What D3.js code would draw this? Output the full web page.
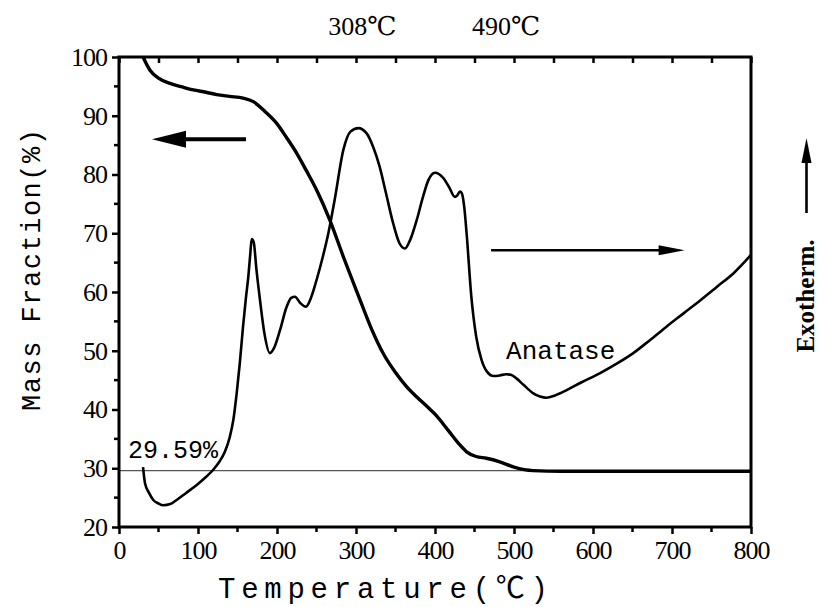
<!DOCTYPE html>
<html>
<head>
<meta charset="utf-8">
<script src="https://cdn.jsdelivr.net/npm/d3@7"></script>
<style>
body{margin:0;background:#fff;}
text{fill:#000;}
</style>
</head>
<body>
<div id="chart"></div>
<script>
// temperature (C) and mass fraction (%) for the TG curve
var tgTemp = [30.4, 39, 50, 64.6, 80, 94, 110, 123.6, 140, 157, 170, 185, 199.6, 212, 225, 237, 250, 267, 284, 303, 320, 335, 350, 364, 378, 390, 400, 417, 430, 440, 452, 465, 482, 500, 524, 560, 650, 800];
var tgMass = [100, 97.8, 96.4, 95.5, 94.9, 94.4, 94.0, 93.6, 93.3, 93.0, 92.4, 90.7, 88.7, 86.3, 83.6, 80.7, 77.4, 72.2, 66.0, 59.4, 53.6, 49.4, 46.3, 43.9, 42.0, 40.5, 39.2, 36.4, 34.2, 32.8, 32.0, 31.7, 31.1, 30.2, 29.6, 29.5, 29.5, 29.5];

// DTA signal (arbitrary units, drawn on its own hidden axis)
var dtaTemp = [30.4, 33, 38, 43.4, 50, 56, 65, 73, 85, 98, 110, 119, 127, 134, 140, 144.7, 149, 153, 157, 160.5, 163.7, 166, 168, 170.5, 174, 178.5, 184, 191, 196, 203.8, 212, 218, 222.8, 229, 236.7, 243, 250, 258, 265, 273, 284, 293, 303, 313.5, 322, 330, 338, 347, 355, 362, 369, 377, 384, 391.5, 400, 410.5, 418, 425, 428, 431.6, 434, 437, 440, 446, 452, 459, 466, 474, 482, 490, 496, 503, 512, 524, 533, 541, 552, 566.7, 585, 609, 630, 651, 672, 693, 715, 736, 757, 778, 800];
var dtaVal = [30.2, 27.4, 25.8, 24.6, 24.0, 23.7, 23.9, 24.6, 25.8, 27.1, 28.5, 29.7, 31.1, 32.8, 35.2, 38.2, 42.8, 48.0, 54.1, 58.8, 62.6, 66.2, 69.0, 68.5, 63.8, 58.6, 53.0, 49.6, 50.4, 53.5, 57.4, 59.0, 59.2, 58.2, 57.5, 59.0, 62.0, 66.0, 70.0, 75.7, 84.2, 87.3, 87.9, 87.0, 84.6, 81.3, 76.8, 71.7, 68.3, 67.4, 69.0, 72.3, 75.8, 79.0, 80.3, 79.4, 77.8, 76.2, 76.4, 77.1, 76.8, 74.5, 70.0, 59.2, 52.5, 48.4, 46.4, 45.7, 45.8, 46.0, 45.9, 45.3, 44.2, 42.8, 42.2, 42.0, 42.4, 43.3, 44.6, 46.2, 47.8, 49.6, 51.8, 54.1, 56.4, 58.6, 60.9, 63.2, 66.3];

var xTicks = [0, 100, 200, 300, 400, 500, 600, 700, 800];
var yTicks = [20, 30, 40, 50, 60, 70, 80, 90, 100];
var residual = 29.59;
var peakLabels = [{t: 308, text: "308℃"}, {t: 490, text: "490℃"}];

var width = 820, height = 607;
var margin = {left: 119, right: 69, top: 57, bottom: 80};

var svg = d3.select("#chart").append("svg")
	.attr("width", width)
	.attr("height", height);

var x = d3.scaleLinear().domain([0, 800]).range([margin.left, width - margin.right]);
var y = d3.scaleLinear().domain([20, 100]).range([height - margin.bottom, margin.top]);
var yDta = d3.scaleLinear().domain([20, 100]).range([height - margin.bottom, margin.top]);

var numFont = "Liberation Serif, DejaVu Serif, serif";
var monoFont = "Liberation Mono, Noto Sans CJK SC, monospace";

// residual mass reference line
svg.append("line")
	.attr("x1", x(0)).attr("x2", x(800))
	.attr("y1", y(residual)).attr("y2", y(residual))
	.attr("stroke", "#555")
	.attr("stroke-width", 1.2);

// curves
var tgLine = d3.line()
	.x(function(d, i) { return x(tgTemp[i]); })
	.y(function(d) { return y(d); })
	.curve(d3.curveMonotoneX);

var dtaLine = d3.line()
	.x(function(d, i) { return x(dtaTemp[i]); })
	.y(function(d) { return yDta(d); })
	.curve(d3.curveMonotoneX);

svg.append("path")
	.attr("d", tgLine(tgMass))
	.attr("fill", "none")
	.attr("stroke", "#000")
	.attr("stroke-width", 3.4);

svg.append("path")
	.attr("d", dtaLine(dtaVal))
	.attr("fill", "none")
	.attr("stroke", "#000")
	.attr("stroke-width", 2.6);

// axes
var xMinor = d3.range(50, 800, 100);
var yMinor = d3.range(25, 100, 10);

var gx = svg.append("g")
	.attr("transform", "translate(0," + y(20) + ")")
	.call(d3.axisBottom(x).tickValues(xTicks).tickSize(7).tickPadding(7));

var gy = svg.append("g")
	.attr("transform", "translate(" + x(0) + ",0)")
	.call(d3.axisLeft(y).tickValues(yTicks).tickSize(7).tickPadding(5));

var gt = svg.append("g")
	.attr("transform", "translate(0," + y(100) + ")")
	.call(d3.axisTop(x).tickValues(xTicks.concat(xMinor)).tickSize(-6).tickFormat(""));

gx.selectAll(".minor").data(xMinor).enter().append("line")
	.attr("class", "minor")
	.attr("x1", function(d) { return x(d); }).attr("x2", function(d) { return x(d); })
	.attr("y1", 0).attr("y2", 5)
	.attr("stroke", "#000").attr("stroke-width", 2.5);
gy.selectAll(".minor").data(yMinor).enter().append("line")
	.attr("class", "minor")
	.attr("y1", function(d) { return y(d); }).attr("y2", function(d) { return y(d); })
	.attr("x1", 0).attr("x2", -5)
	.attr("stroke", "#000").attr("stroke-width", 2.5);

[gx, gy, gt].forEach(function(g) {
	g.attr("font-family", numFont).attr("font-size", 26);
	g.select(".domain").remove();
	g.selectAll(".tick line").attr("stroke-width", 2.5);
	g.selectAll(".tick text").attr("fill", "#000").attr("letter-spacing", -1);
});

// frame
svg.append("rect")
	.attr("x", x(0)).attr("y", y(100))
	.attr("width", x(800) - x(0)).attr("height", y(20) - y(100))
	.attr("fill", "none")
	.attr("stroke", "#000").attr("stroke-width", 3);

// axis titles
svg.append("text")
	.attr("x", 383)
	.attr("y", 598)
	.attr("text-anchor", "middle")
	.attr("textLength", 330)
	.attr("lengthAdjust", "spacing")
	.attr("font-family", monoFont)
	.attr("font-size", 29)
	.text("Temperature(℃)");

svg.append("text")
	.attr("transform", "translate(40,270) rotate(-90)")
	.attr("text-anchor", "middle")
	.attr("textLength", 282)
	.attr("lengthAdjust", "spacing")
	.attr("font-family", monoFont)
	.attr("font-size", 27)
	.text("Mass Fraction(%)");

// peak temperatures above the plot
svg.selectAll(".peak").data(peakLabels).enter().append("text")
	.attr("class", "peak")
	.attr("x", function(d) { return x(d.t); })
	.attr("y", 35)
	.attr("text-anchor", "middle")
	.attr("font-family", numFont)
	.attr("font-size", 26)
	.text(function(d) { return d.text; });

// annotations
svg.append("text")
	.attr("x", x(11.5))
	.attr("y", y(31.7))
	.attr("font-family", monoFont)
	.attr("font-size", 25)
	.text(residual.toFixed(2) + "%");

svg.append("text")
	.attr("x", x(490))
	.attr("y", y(48.6))
	.attr("font-family", monoFont)
	.attr("font-size", 26)
	.text("Anatase");

// direction arrows: line plus a filled triangular head
function arrow(x1, y1, x2, y2, lineW, headLen, headW) {
	var dx = x2 - x1, dy = y2 - y1, len = Math.sqrt(dx * dx + dy * dy);
	var ux = dx / len, uy = dy / len;
	var bx = x2 - ux * headLen, by = y2 - uy * headLen;
	svg.append("line")
		.attr("x1", x1).attr("y1", y1)
		.attr("x2", bx + ux).attr("y2", by + uy)
		.attr("stroke", "#000").attr("stroke-width", lineW);
	svg.append("path")
		.attr("d", "M" + x2 + "," + y2 +
			"L" + (bx - uy * headW / 2) + "," + (by + ux * headW / 2) +
			"L" + (bx + uy * headW / 2) + "," + (by - ux * headW / 2) + "Z")
		.attr("fill", "#000");
}

arrow(x(160.8), y(86), x(41.8), y(86), 4, 34, 17);
arrow(x(471), y(67.1), x(716), y(67.1), 2.6, 26, 10);
arrow(806.5, 213, 806.5, 138, 2.6, 25, 10);

svg.append("text")
	.attr("transform", "translate(814,296) rotate(-90)")
	.attr("text-anchor", "middle")
	.attr("font-family", numFont)
	.attr("font-size", 25)
	.attr("font-weight", "bold")
	.text("Exotherm.");
</script>
</body>
</html>
